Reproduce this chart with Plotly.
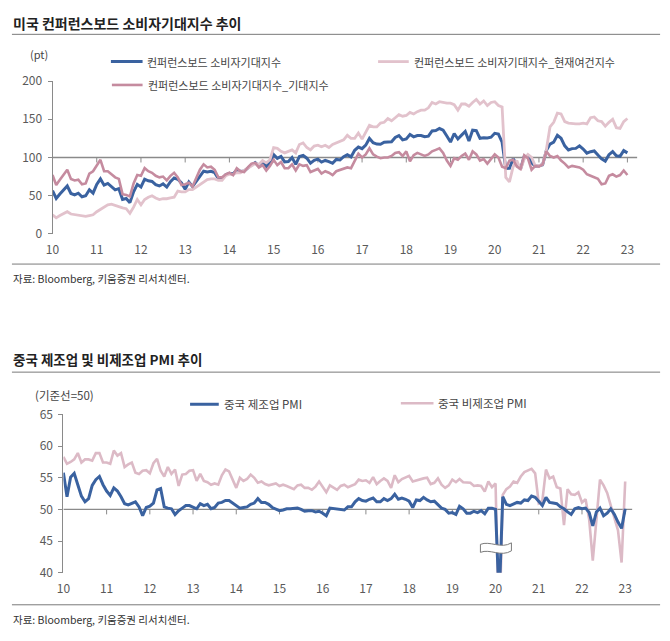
import plotly.graph_objects as go

W, H = 670, 641

year_labels = ['10', '11', '12', '13', '14', '15', '16', '17', '18', '19', '20', '21', '22', '23']

# US Conference Board (monthly, 2010-01 .. 2023-01)
cci = [
    56.5, 46.4, 52.3, 57.7, 62.7, 52.9, 51.0, 53.2, 48.6, 49.9, 57.8, 53.3,
    64.8, 72.0, 63.8, 66.0, 61.7, 57.6, 59.2, 45.2, 46.4, 40.9, 55.2, 64.8,
    61.5, 71.6, 69.5, 68.7, 64.4, 62.7, 65.4, 61.3, 68.4, 73.1, 71.5, 66.7,
    58.4, 68.0, 61.9, 69.0, 76.2, 82.1, 81.0, 81.8, 80.2, 72.4, 72.0, 77.5,
    79.4, 78.3, 83.9, 81.7, 82.2, 86.4, 90.3, 93.4, 89.0, 94.1, 88.1, 93.1,
    103.8, 98.8, 101.4, 94.3, 94.6, 99.8, 91.0, 101.3, 102.6, 99.1, 92.6, 96.3,
    97.8, 94.0, 96.1, 94.7, 92.4, 97.4, 96.7, 101.1, 103.5, 100.8, 109.4, 113.7,
    111.6, 116.1, 124.9, 119.4, 117.6, 117.3, 120.0, 120.4, 120.6, 126.2, 128.6, 123.1,
    124.3, 130.0, 127.0, 128.7, 128.8, 127.1, 127.9, 134.7, 135.3, 137.9, 135.7, 128.1,
    120.2, 131.4, 124.2, 129.2, 134.1, 121.5, 135.7, 135.1, 125.1, 125.9, 125.5, 126.5,
    131.6, 130.7, 120.0, 85.7, 85.9, 98.3, 91.7, 84.8, 101.3, 101.4, 92.9, 88.6,
    89.3, 90.4, 109.0, 117.5, 120.0, 128.9, 125.1, 115.2, 109.8, 111.6, 111.9, 115.2,
    111.1, 105.7, 107.6, 108.6, 103.2, 98.4, 95.3, 103.6, 107.8, 102.2, 101.4, 109.0,
    106.0,
]
present = [
    25, 21, 24, 27, 29, 26, 25, 24, 23, 23, 24, 25,
    29, 32, 35, 38, 39, 37, 35, 34, 33, 27, 35, 45,
    38, 45, 48, 50, 47, 45, 46, 46, 47, 48, 56, 55,
    55, 58, 58, 61, 64, 68, 71, 72, 72, 70, 70, 76,
    78, 78, 80, 80, 83, 85, 88, 92, 91, 96, 93, 97,
    113, 112, 108, 106, 108, 110, 106, 117, 119, 113, 110, 115,
    116, 114, 116, 113, 117, 119, 121, 123, 129, 125, 125, 132,
    124, 133, 142, 140, 140, 145, 146, 151, 148, 152, 156, 154,
    155, 159, 157, 160, 162, 162, 165, 172, 170, 173, 172, 171,
    171, 169, 162, 170, 170, 167, 172, 176, 170, 174, 168, 172,
    173, 168, 166, 74, 68, 88, 96, 84, 98, 104, 100, 89,
    89.5, 91, 110, 140, 146, 158, 157, 147, 145, 144, 144, 144,
    145, 144, 152, 153, 148, 147, 141, 146, 150, 139, 138, 147,
    151,
]
expect = [
    77, 64, 71, 77, 84, 72, 70, 71, 65, 66, 79, 82,
    89, 97, 82, 82, 78, 74, 72, 52, 51, 49, 66, 77,
    76, 86, 82, 80, 76, 74, 75, 70, 76, 80, 74, 64,
    65, 67, 62, 72, 84, 91, 87, 88, 84, 74, 74, 78,
    80, 77, 86, 82, 81, 87, 92, 93, 87, 90, 83, 89,
    97, 90, 94, 86, 86, 91, 83, 91, 89, 90, 81, 83,
    85, 79, 82, 80, 77, 82, 84, 86, 87, 86, 95, 105,
    100, 104, 112, 104, 101, 99, 100, 100, 102, 106, 107, 102,
    108, 95, 103, 106, 104, 102, 104, 108, 110, 112, 106, 96,
    89, 99, 97, 102, 105, 97, 108, 104, 96, 98, 92, 98,
    104, 100, 88, 86, 96, 97, 88, 85, 103, 99, 84, 89,
    88, 91, 108, 102, 100, 102, 96, 92, 87, 89, 88, 87,
    84, 78, 76, 74, 72, 65, 66, 76, 78, 75, 77, 83,
    77,
]

# China PMI (monthly, 2010-01 .. 2023-01)
pmi_mfg = [
    55.8, 52.0, 55.1, 55.7, 53.9, 52.1, 51.2, 51.7, 53.8, 54.7, 55.2, 53.9,
    52.9, 52.2, 53.4, 52.9, 52.0, 50.9, 50.7, 50.9, 51.2, 50.4, 49.0, 50.3,
    50.5, 51.0, 53.1, 53.3, 50.4, 50.2, 50.1, 49.2, 49.8, 50.2, 50.6, 50.6,
    50.4, 50.1, 50.9, 50.6, 50.8, 50.1, 50.3, 51.0, 51.1, 51.4, 51.4, 51.0,
    50.5, 50.2, 50.3, 50.4, 50.8, 51.0, 51.7, 51.1, 51.1, 50.8, 50.3, 50.1,
    49.8, 49.9, 50.1, 50.1, 50.2, 50.2, 50.0, 49.7, 49.8, 49.8, 49.6, 49.7,
    49.4, 49.0, 50.2, 50.1, 50.1, 50.0, 49.9, 50.4, 50.4, 51.2, 51.7, 51.4,
    51.3, 51.6, 51.8, 51.2, 51.2, 51.7, 51.4, 51.7, 52.4, 51.6, 51.8, 51.6,
    51.3, 50.3, 51.5, 51.4, 51.9, 51.5, 51.2, 51.3, 50.8, 50.2, 50.0, 49.4,
    49.5, 49.2, 50.5, 50.1, 49.4, 49.4, 49.7, 49.5, 49.8, 49.3, 50.2, 50.2,
    50.0, 35.7, 52.0, 50.8, 50.6, 50.9, 51.1, 51.0, 51.5, 51.4, 52.1, 51.9,
    51.3, 50.6, 51.9, 51.1, 51.0, 50.9, 50.4, 50.1, 49.6, 49.2, 50.1, 50.3,
    50.1, 50.2, 49.5, 47.4, 49.6, 50.2, 49.0, 49.4, 50.1, 49.2, 48.0, 47.0,
    50.1,
]
pmi_non = [
    58.3, 57.2, 57.5, 57.9, 58.9, 57.4, 57.9, 57.9, 57.7, 58.9, 58.9, 57.4,
    57.4, 57.2, 59.3, 58.5, 58.9, 56.7, 57.1, 57.4, 55.8, 55.6, 56.1, 56.2,
    55.7, 57.3, 58.0, 56.1, 55.2, 56.7, 55.6, 56.3, 53.7, 55.5, 55.6, 56.1,
    56.2, 54.5, 55.6, 54.5, 54.3, 53.9, 54.1, 53.9, 55.4, 56.3, 56.0, 54.6,
    53.4, 55.0, 54.5, 54.8, 55.5, 55.0, 54.2, 54.4, 54.0, 53.8, 53.9, 54.1,
    53.7, 53.9, 53.7, 53.4, 53.2, 53.8, 53.9, 53.4, 53.4, 53.1, 53.6, 54.4,
    53.5, 52.7, 53.8, 53.5, 53.1, 53.7, 53.9, 53.5, 53.7, 54.0, 54.7, 54.5,
    54.6, 54.2, 55.1, 54.0, 54.5, 54.9, 54.5, 53.4, 55.4, 54.3, 54.8, 55.0,
    55.3, 54.4, 54.6, 54.8, 54.9, 55.0, 54.0, 54.2, 54.9, 53.9, 53.4, 53.8,
    54.7, 54.3, 54.8, 54.3, 54.3, 54.2, 53.7, 53.8, 53.7, 52.8, 54.4, 53.5,
    54.1, 29.6, 52.3, 53.2, 53.6, 54.4, 54.2, 55.2, 55.9, 56.2, 56.4, 55.7,
    51.0, 51.4, 56.3, 54.9, 55.2, 53.5, 53.3, 47.5, 53.2, 52.4, 52.3, 52.7,
    51.1, 51.6, 48.4, 41.9, 47.8, 54.7, 53.8, 52.6, 50.6, 48.7, 46.7, 41.6,
    54.4,
]

top_yticks = [0, 50, 100, 150, 200]
bot_yticks = [40, 45, 50, 55, 60, 65]
year_ticks = [12 * i for i in range(len(year_labels))]
months = list(range(len(cci)))
months2 = list(range(len(pmi_mfg)))

BLUE = '#3a62a0'
LPINK = '#e2c2cc'
MAUVE = '#c58b9f'
NPINK = '#dcbac6'
GRAY = '#8a8a8a'
FONT = 'Noto Sans CJK KR'
TICKC = '#5a5a5a'


def px(x):
    return x / W


def py(y):
    return 1 - y / H


TOP_X_END = 158.7
BOT_X_END = 158.0

fig = go.Figure()
fig.add_trace(go.Scatter(x=months, y=cci, mode='lines', line=dict(color=BLUE, width=3),
                         xaxis='x', yaxis='y', name='컨퍼런스보드 소비자기대지수'))
fig.add_trace(go.Scatter(x=months, y=present, mode='lines', line=dict(color=LPINK, width=2.8),
                         xaxis='x', yaxis='y', name='컨퍼런스보드 소비자기대지수_현재여건지수'))
fig.add_trace(go.Scatter(x=months, y=expect, mode='lines', line=dict(color=MAUVE, width=2.6),
                         xaxis='x', yaxis='y', name='컨퍼런스보드 소비자기대지수_기대지수'))
fig.add_trace(go.Scatter(x=months2, y=pmi_non, mode='lines', line=dict(color=NPINK, width=2.6),
                         xaxis='x2', yaxis='y2', name='중국 비제조업 PMI'))
fig.add_trace(go.Scatter(x=months2, y=pmi_mfg, mode='lines', line=dict(color=BLUE, width=3),
                         xaxis='x2', yaxis='y2', name='중국 제조업 PMI'))

xcommon = dict(tickvals=year_ticks, ticktext=year_labels, showgrid=False, zeroline=False,
               showline=False, ticks='outside', ticklen=5, tickcolor='rgba(0,0,0,0)',
               tickfont=dict(family=FONT, size=12, color=TICKC), fixedrange=True)
ycommon = dict(showgrid=False, zeroline=False, showline=True, linecolor=GRAY, linewidth=1,
               ticks='outside', ticklen=4, tickcolor=GRAY, tickwidth=1, ticklabelstandoff=3,
               tickfont=dict(family=FONT, size=12, color=TICKC), fixedrange=True)

fig.update_layout(
    width=W, height=H, margin=dict(l=0, r=0, t=0, b=0),
    paper_bgcolor='white', plot_bgcolor='white', showlegend=False,
    xaxis=dict(domain=[px(46), px(637)], range=[0, TOP_X_END], anchor='y', **xcommon),
    yaxis=dict(domain=[py(230), py(73)], range=[0, 200], anchor='x', tickvals=top_yticks, **ycommon),
    xaxis2=dict(domain=[px(57), px(632)], range=[0, BOT_X_END], anchor='y2', **xcommon),
    yaxis2=dict(domain=[py(578), py(415.5)], range=[40, 65], anchor='x2', tickvals=bot_yticks, **ycommon),
)

shapes = []
# rules
for yy in (25, 261, 372, 611):
    shapes.append(dict(type='line', xref='paper', yref='paper', x0=px(5), x1=px(660),
                       y0=py(yy), y1=py(yy), line=dict(color='#7a7a7a', width=1)))
# reference lines acting as x axes
shapes.append(dict(type='line', xref='x', yref='y', x0=0, x1=TOP_X_END, y0=100, y1=100,
                   line=dict(color=GRAY, width=1.4), layer='below'))
shapes.append(dict(type='line', xref='x2', yref='y2', x0=0, x1=BOT_X_END, y0=50, y1=50,
                   line=dict(color=GRAY, width=1.4), layer='below'))
for t in year_ticks[1:]:
    shapes.append(dict(type='line', xref='x', yref='y', ysizemode='pixel', yanchor=100,
                       x0=t, x1=t, y0=0, y1=-5, line=dict(color=GRAY, width=1), layer='below'))
    shapes.append(dict(type='line', xref='x2', yref='y2', ysizemode='pixel', yanchor=50,
                       x0=t, x1=t, y0=0, y1=-5, line=dict(color=GRAY, width=1), layer='below'))


def swatch(x0, x1, y, color, w):
    shapes.append(dict(type='line', xref='paper', yref='paper', x0=px(x0), x1=px(x1),
                       y0=py(y), y1=py(y), line=dict(color=color, width=w)))


swatch(105, 137, 53, BLUE, 3)
swatch(375, 406, 53, LPINK, 2.8)
swatch(106, 137, 77, MAUVE, 2.6)
swatch(185, 214, 405, BLUE, 3)
swatch(398, 431, 404, NPINK, 2.6)

# axis break symbol (pixel-sized path anchored on the Feb-2020 drop)
shapes.append(dict(type='path', xref='x2', yref='y2', xsizemode='pixel', ysizemode='pixel',
                   xanchor=120.1, yanchor=44.0,
                   path='M -15.5 3 C -6 7, 5 -2, 15.5 4.5 L 15.5 -3.5 C 5 -10, -6 -1, -15.5 -5 Z',
                   fillcolor='white', line=dict(color='#7a7a7a', width=1), layer='above'))

fig.update_layout(shapes=shapes)

ann = []


def text(x, y, s, size, color='#333', anchor='left'):
    ann.append(dict(xref='paper', yref='paper', x=px(x), y=py(y), text=s, showarrow=False,
                    xanchor=anchor, yanchor='middle',
                    font=dict(family=FONT, size=size, color=color)))


text(4, 13, '<b>미국 컨퍼런스보드 소비자기대지수 추이</b>', 14, '#222')
text(21, 45, '(pt)', 11, '#444')
text(139, 53, '컨퍼런스보드 소비자기대지수', 11, '#444')
text(409, 53, '컨퍼런스보드 소비자기대지수_현재여건지수', 11, '#444')
text(140, 77, '컨퍼런스보드 소비자기대지수_기대지수', 11, '#444')
text(4, 276, '자료: Bloomberg, 키움증권 리서치센터.', 10.5, '#333')

text(4, 358, '<b>중국 제조업 및 비제조업 PMI 추이</b>', 13.5, '#222')
text(26, 396, '(기준선=50)', 11.5, '#444')
text(217, 405, '중국 제조업 PMI', 11.5, '#444')
text(434, 404, '중국 비제조업 PMI', 11.5, '#444')
text(4, 626, '자료: Bloomberg, 키움증권 리서치센터.', 10.5, '#333')

fig.update_layout(annotations=ann)

fig.write_html('out.html')
